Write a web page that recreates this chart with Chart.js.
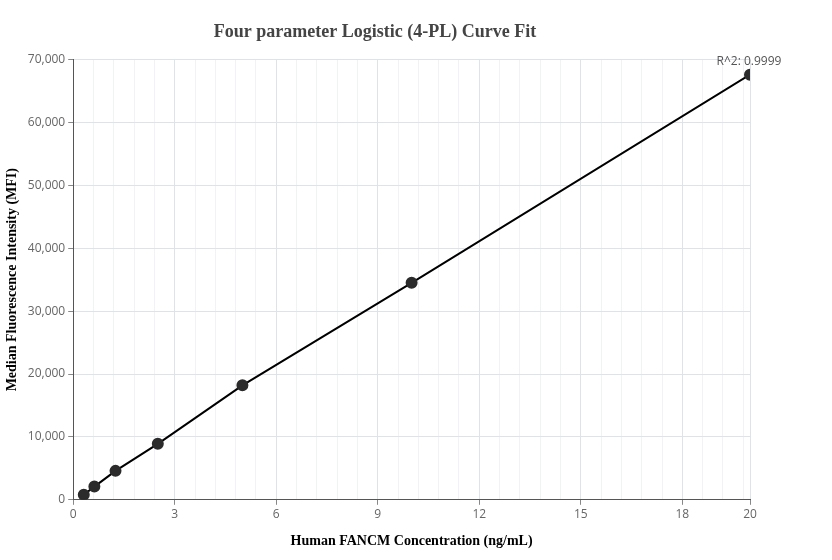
<!DOCTYPE html>
<html><head><meta charset="utf-8">
<script src="https://cdn.jsdelivr.net/npm/chart.js@4"></script>
<style>html,body{margin:0;background:#fff}</style>
</head><body><canvas id="c" width="832" height="560"></canvas>
<script>
const concentrations = [0.3125, 0.625, 1.25, 2.5, 5, 10, 20];
const mfiValues = [800, 2100, 4600, 8900, 18200, 34500, 67600];
const rSquaredLabel = "R^2: 0.9999";
const pts = concentrations.map((x,i)=>({x, y: mfiValues[i]}));
const isMajor = v => Math.abs(v/3 - Math.round(v/3)) < 1e-6 || Math.abs(v-20)<1e-6;
const r2Plugin = {id:'r2', afterDatasetsDraw(ch){
  const {ctx, scales:{x,y}} = ch;
  ctx.save(); ctx.font='12px "Open Sans"'; ctx.fillStyle='#555'; ctx.textAlign='center';
  ctx.fillText(rSquaredLabel, x.getPixelForValue(20)-1, y.getPixelForValue(70000)+5);
  ctx.restore();
}};
new Chart(document.getElementById('c'), {
  type:'scatter',
  data:{datasets:[{data:pts, showLine:true, borderColor:'#000', borderWidth:2,
    pointBackgroundColor:'#2b2b2b', pointBorderColor:'#2b2b2b', pointRadius:5}]},
  options:{responsive:false, animation:false, maintainAspectRatio:false,
    layout:{padding:{left:0,right:82,top:0,bottom:6}},
    plugins:{legend:{display:false}, tooltip:{enabled:false},
      title:{display:true, text:'Four parameter Logistic (4-PL) Curve Fit', color:'#444',
        font:{family:'"Liberation Serif"', size:18, weight:'bold'}, padding:{top:22,bottom:16}}},
    scales:{
      x:{type:'linear', min:0, max:20,
        afterBuildTicks(ax){const t=[];for(let i=0;i<=33;i++)t.push({value:+(i*0.6).toFixed(4)});t.push({value:20});ax.ticks=t;},
        ticks:{autoSkip:false, maxRotation:0, color:'#666', font:{family:'"Open Sans"', size:12},
          callback:v=>isMajor(v)?String(Math.round(v)):''},
        grid:{color:c=>isMajor(c.tick.value)?'#dde4e8':'#f0f2f4', drawTicks:true, tickLength:5, tickColor:c=>isMajor(c.tick.value)?'#888':'transparent'},
        border:{color:'#555'},
        title:{display:true, text:'Human FANCM Concentration (ng/mL)', color:'#000', font:{family:'"Liberation Serif"', size:14, weight:'bold'}, padding:{top:8}}},
      y:{min:0, max:70000, ticks:{stepSize:10000, color:'#666', font:{family:'"Open Sans"', size:12},
          callback:v=>v.toLocaleString('en-US')},
        grid:{color:'#dde4e8', tickLength:5, tickColor:'#888'}, border:{color:'#555'},
        title:{display:true, text:'Median Fluorescence Intensity (MFI)', color:'#000', font:{family:'"Liberation Serif"', size:14, weight:'bold'}, padding:{bottom:4}}}
    }},
  plugins:[r2Plugin]
});
</script></body></html>
